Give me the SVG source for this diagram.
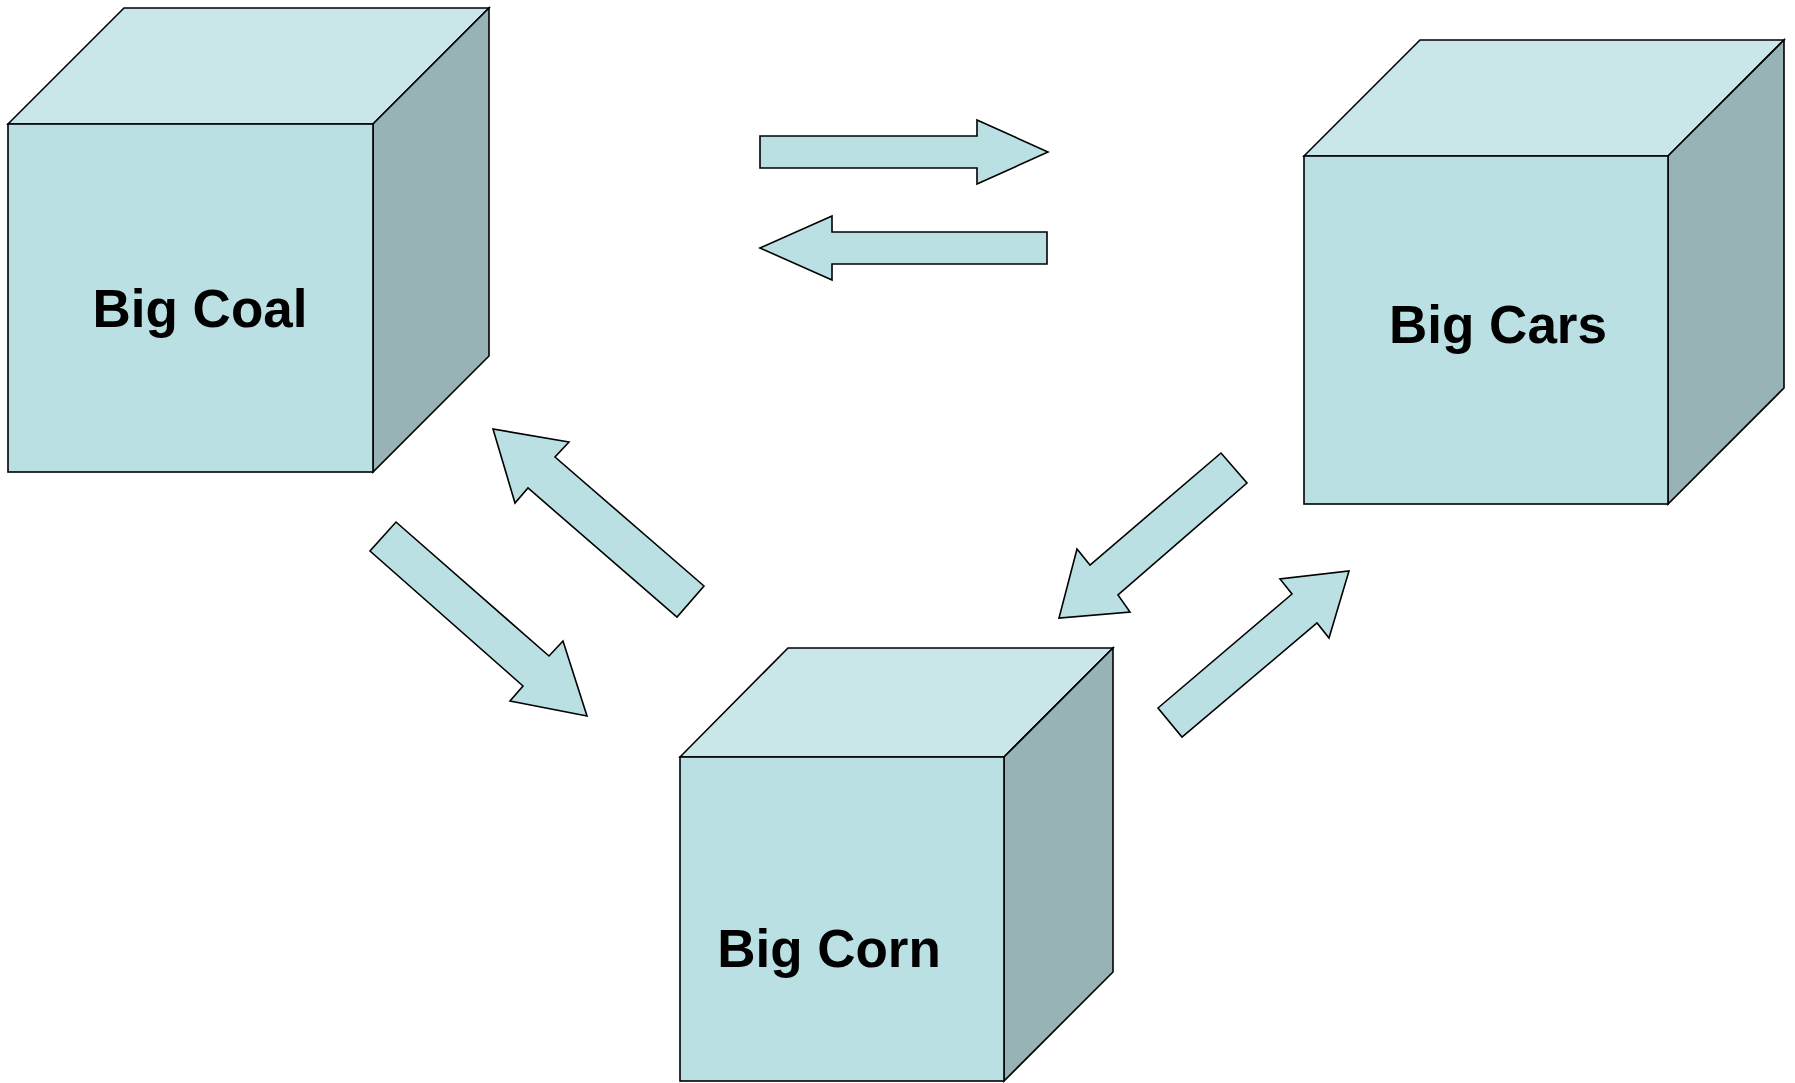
<svg xmlns="http://www.w3.org/2000/svg" width="1795" height="1083" viewBox="0 0 1795 1083">
<style>
.front{fill:#bae0e3;stroke:#000;stroke-width:1.6;stroke-linejoin:miter}
.top{fill:#c9e6e8;stroke:#000;stroke-width:1.6}
.side{fill:#97b3b6;stroke:#000;stroke-width:1.6}
.arrow{fill:#bae0e3;stroke:#000;stroke-width:1.6;stroke-linejoin:miter}
.label{font-family:"Liberation Sans",Arial,sans-serif;font-weight:bold;font-size:53px;fill:#000;text-anchor:middle}
</style>
<rect width="1795" height="1083" fill="#fff"/>
<g id="big-coal">
<polygon class="top" points="8,124 124,8 489,8 373,124"/>
<polygon class="side" points="373,124 489,8 489,356 373,472"/>
<rect class="front" x="8" y="124" width="365" height="348"/>
<text class="label" x="200" y="327">Big Coal</text>
</g>
<g id="big-cars">
<polygon class="top" points="1304,156 1420,40 1784,40 1668,156"/>
<polygon class="side" points="1668,156 1784,40 1784,388 1668,504"/>
<rect class="front" x="1304" y="156" width="364" height="348"/>
<text class="label" x="1498" y="343">Big Cars</text>
</g>
<g id="big-corn">
<polygon class="top" points="680,757 788,648 1113,648 1004,757"/>
<polygon class="side" points="1004,757 1113,648 1113,972 1004,1081"/>
<rect class="front" x="680" y="757" width="324" height="324"/>
<text class="label" x="829" y="967">Big Corn</text>
</g>
<g id="connectors">
<polygon class="arrow" points="760,136 977,136 977,120 1048,152 977,184 977,168 760,168"/>
<polygon class="arrow" points="1047,232 832,232 832,216 760,248 832,280 832,264 1047,264"/>
<polygon class="arrow" points="704,586 555,457 569,442 493,429 515,503 528,488 677,617"/>
<polygon class="arrow" points="396,522 549,656 563,641 587,716 510,701 523,686 370,551"/>
<polygon class="arrow" points="1221,453 1090,565 1077,549 1059,618 1130,612 1118,595 1247,483"/>
<polygon class="arrow" points="1158,708 1292,594 1280,579 1349,571 1329,638 1317,623 1182,737"/>
</g>
</svg>
